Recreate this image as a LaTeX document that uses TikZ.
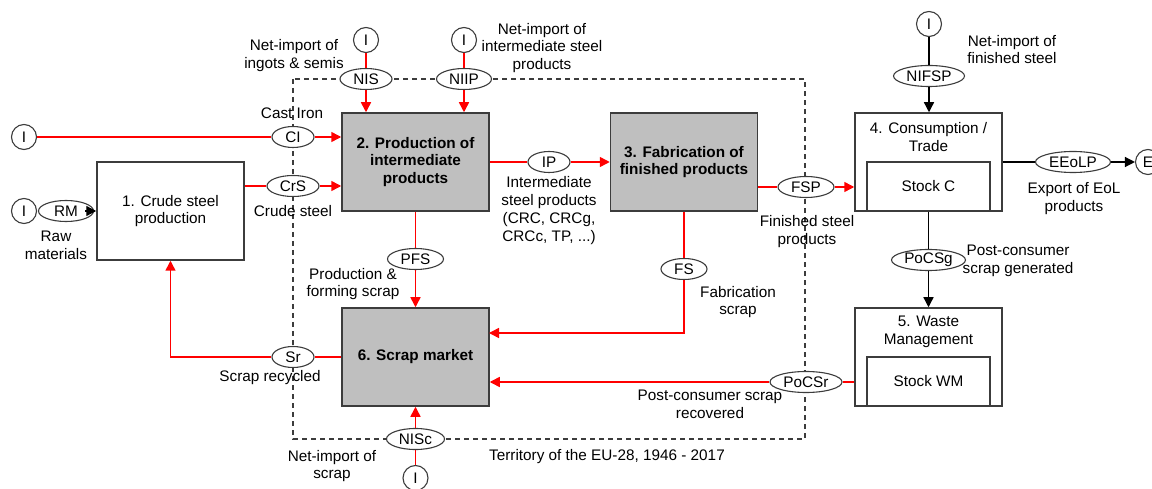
\documentclass[tikz,border=0pt]{standalone}
\usepackage{fontspec}
\setmainfont{Liberation Sans}
\usetikzlibrary{arrows.meta,shapes.geometric}
\definecolor{flowred}{RGB}{255,0,0}
\definecolor{boxgray}{RGB}{191,191,191}
\definecolor{linegray}{RGB}{60,60,60}
\begin{document}
\begin{tikzpicture}[x=1pt,y=-1pt,
 every node/.style={font=\fontsize{15.3}{17.7}\selectfont, inner sep=0pt},
 proc/.style={draw=linegray, line width=1.5pt, minimum width=147pt, minimum height=98pt, align=center},
 grayproc/.style={proc, fill=boxgray, font=\fontsize{15.3}{17.7}\selectfont\bfseries},
 stockbox/.style={draw=linegray, line width=1.5pt, minimum width=123pt, minimum height=49pt},
 flow/.style={ellipse, draw=linegray, line width=1.1pt, fill=white, minimum height=21pt, inner ysep=-0.5pt},
 src/.style={circle, draw=linegray, line width=1.1pt, fill=white, minimum size=25pt},
 lbl/.style={align=center},
 rline/.style={draw=flowred, line width=1.5pt},
 rarrow/.style={rline, -{Triangle[length=10pt,width=10pt]}},
 kline/.style={draw=black, line width=1.3pt},
 karrow/.style={kline, -{Triangle[length=10pt,width=10pt]}},
 territory/.style={draw=linegray, line width=1.2pt, dash pattern=on 5pt off 4pt},
]
\useasboundingbox (0,0) rectangle (1152,489);
% territory boundary
\draw[territory] (293,79) rectangle (805,439);

% process boxes
\node[proc] (box1) at (170.5,211) {1. Crude steel\\production};
\node[grayproc] (box2) at (415.5,162) {2. Production of\\intermediate\\products};
\node[grayproc] (box3) at (684,162) {3. Fabrication of\\finished products};
\node[proc] (box4) at (928.5,162) {};
\node[lbl] (box4txt) at (928.5,137) {4. Consumption /\\Trade};
\node[stockbox] (stockC) at (928.5,186.5) {Stock C};
\node[proc] (box5) at (928.5,357) {};
\node[lbl] (box5txt) at (928.5,332) {5. Waste\\Management};
\node[stockbox] (stockWM) at (928.5,381.5) {Stock WM};
\node[grayproc] (box6) at (415.5,357) {6. Scrap market};

% sources
\node[src] (iCI) at (24,137) {I};
\node[src] (iRM) at (24,211) {I};
\node[src] (iNIS) at (366,40) {I};
\node[src] (iNIIP) at (464,40) {I};
\node[src] (iNIFSP) at (929,24) {I};
\node[src] (iNISc) at (415.5,478) {I};
\node[src] (eEx) at (1148,162) {E};

% flows
\node[flow, minimum width=52pt] (NIS) at (366,79) {NIS};
\node[flow, minimum width=55pt] (NIIP) at (464,79) {NIIP};
\node[flow, minimum width=42pt] (CI) at (293,137) {CI};
\node[flow, minimum width=52pt] (CrS) at (293,186) {CrS};
\node[flow, minimum width=55pt] (RM) at (66,211) {RM};
\node[flow, minimum width=42pt] (IP) at (549,162) {IP};
\node[flow, minimum width=56pt] (FSP) at (806,187) {FSP};
\node[flow, minimum width=71pt] (NIFSP) at (929,76) {NIFSP};
\node[flow, minimum width=75pt] (EEoLP) at (1073,162) {EEoLP};
\node[flow, minimum width=74pt] (PoCSg) at (928.5,260) {PoCSg};
\node[flow, minimum width=72pt] (PoCSr) at (806,382) {PoCSr};
\node[flow, minimum width=46pt] (FS) at (684,269) {FS};
\node[flow, minimum width=56pt] (PFS) at (415.5,259) {PFS};
\node[flow, minimum width=42pt] (Sr) at (293,357) {Sr};
\node[flow, minimum width=58pt] (NISc) at (415.5,439) {NISc};
\coordinate (fsEntry) at (489,333);

% labels
\node[lbl] (lNIS) at (294,55.5) {Net-import of\\ingots \& semis};
\node[lbl] (lNIIP) at (542,48) {Net-import of\\intermediate steel\\products};
\node[lbl] (lCI) at (292,113) {Cast Iron};
\node[lbl] (lCrS) at (293,211) {Crude steel};
\node[lbl] (lRM) at (56,245) {Raw\\materials};
\node[lbl] (lIP) at (549,210.5) {Intermediate\\steel products\\(CRC, CRCg,\\CRCc, TP, ...)};
\node[lbl] (lFSP) at (807,231.5) {Finished steel\\products};
\node[lbl] (lNIFSP) at (1012,49.5) {Net-import of\\finished steel};
\node[lbl] (lEEoLP) at (1074,198.5) {Export of EoL\\products};
\node[lbl] (lPoCSg) at (1018,261) {Post-consumer\\scrap generated};
\node[lbl] (lFS) at (738,302) {Fabrication\\scrap};
\node[lbl] (lPFS) at (353,284) {Production \&\\forming scrap};
\node[lbl] (lSr) at (270,378) {Scrap recycled};
\node[lbl] (lPoCSr) at (710,404.5) {Post-consumer scrap\\recovered};
\node[lbl] (lNISc) at (332,466) {Net-import of\\scrap};
\node[lbl] (lTerr) at (607,457) {Territory of the EU-28, 1946 - 2017};

% connectors
\draw[rline] (iNIS) -- (NIS);
\draw[rarrow] (NIS) -- (NIS |- box2.north);
\draw[rline] (iNIIP) -- (NIIP);
\draw[rarrow] (NIIP) -- (NIIP |- box2.north);
\draw[rline] (iCI) -- (CI);
\draw[rarrow] (CI) -- (CI -| box2.west);
\draw[rline] (CrS -| box1.east) -- (CrS);
\draw[rarrow] (CrS) -- (CrS -| box2.west);
\draw[karrow] ([xshift=-9pt]RM.east) -- (RM -| box1.west);
\draw[rline] (IP -| box2.east) -- (IP);
\draw[rarrow] (IP) -- (IP -| box3.west);
\draw[rline] (FSP -| box3.east) -- (FSP);
\draw[rarrow] (FSP) -- (FSP -| box4.west);
\draw[kline] (iNIFSP) -- (NIFSP);
\draw[karrow] (NIFSP) -- (NIFSP |- box4.north);
\draw[kline] (EEoLP -| box4.east) -- (EEoLP);
\draw[karrow] (EEoLP) -- (eEx);
\draw[kline] (PoCSg |- box4.south) -- (PoCSg);
\draw[karrow] (PoCSg) -- (PoCSg |- box5.north);
\draw[rline] (PoCSr -| box5.west) -- (PoCSr);
\draw[rarrow] (PoCSr) -- (PoCSr -| box6.east);
\draw[rline] (FS |- box3.south) -- (FS);
\draw[rarrow] (FS) |- (fsEntry);
\draw[rline] (PFS |- box2.south) -- (PFS);
\draw[rarrow] (PFS) -- (PFS |- box6.north);
\draw[rline] (Sr -| box6.west) -- (Sr);
\draw[rarrow] (Sr) -| (box1.south);
\draw[rline] (iNISc) -- (NISc);
\draw[rarrow] (NISc) -- (NISc |- box6.south);
\end{tikzpicture}
\end{document}
